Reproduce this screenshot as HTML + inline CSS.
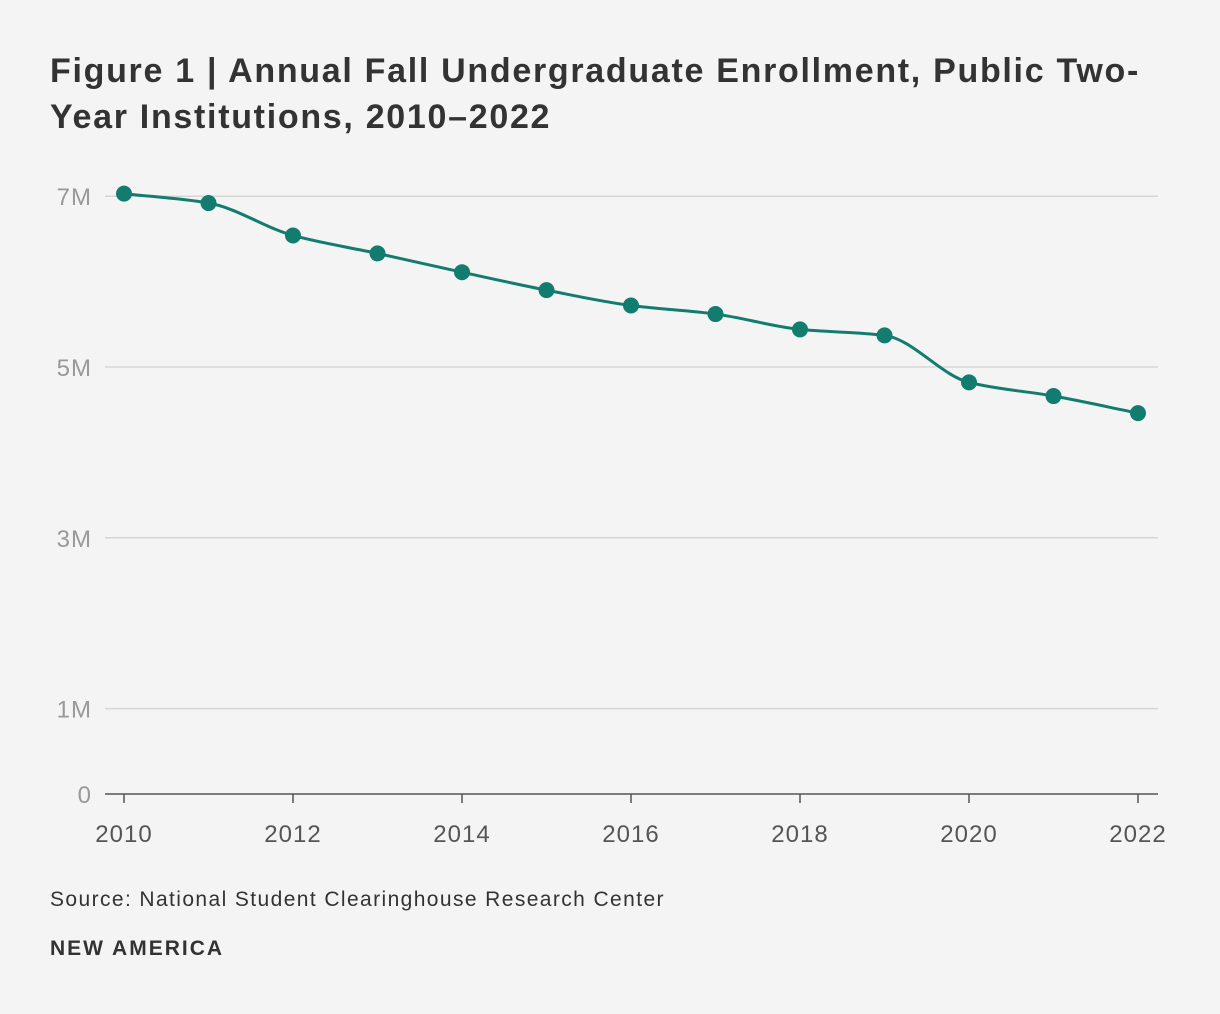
<!DOCTYPE html>
<html><head><meta charset="utf-8">
<style>
body{margin:0;background:#f4f4f4;width:1220px;height:1014px;overflow:hidden;font-family:"Liberation Sans",sans-serif;}
h1{position:absolute;left:50px;top:48px;margin:0;font-size:34px;line-height:46px;font-weight:bold;color:#333;width:1160px;letter-spacing:1.7px;white-space:nowrap}
.src{position:absolute;left:50px;top:888px;font-size:21px;color:#333;letter-spacing:1.4px}
.brand{position:absolute;left:50px;top:937px;font-size:21px;font-weight:bold;color:#333;letter-spacing:2px}
svg{position:absolute;left:0;top:0}
</style></head><body>
<h1>Figure 1 | Annual Fall Undergraduate Enrollment, Public Two-<br>Year Institutions, 2010–2022</h1>
<svg id="chart" width="1220" height="1014"></svg>
<div class="src">Source: National Student Clearinghouse Research Center</div>
<div class="brand">NEW AMERICA</div>
<script>
const years=[2010,2011,2012,2013,2014,2015,2016,2017,2018,2019,2020,2021,2022];
const enrollment=[7.03,6.92,6.54,6.33,6.11,5.90,5.72,5.62,5.44,5.37,4.82,4.66,4.46];
const yTicks=[0,1,3,5,7];
const yTickLabels=["0","1M","3M","5M","7M"];
const xTicks=[2010,2012,2014,2016,2018,2020,2022];
const svg=document.getElementById('chart');
const NS='http://www.w3.org/2000/svg';
const x=v=>124+(v-2010)*(1138-124)/12;
const y=v=>794-v*85.4;
function mk(t,a){const e=document.createElementNS(NS,t);for(const k in a)e.setAttribute(k,a[k]);svg.appendChild(e);return e;}
yTicks.forEach((t,i)=>{
  if(t>0){const g=mk('line',{x1:105,x2:1158,y1:y(t),y2:y(t),stroke:'#d6d6d6','stroke-width':1.5});
  
  }
  const l=mk('text',{x:92,y:y(t)+9,'text-anchor':'end','font-size':24,fill:'#999','font-family':'Liberation Sans, sans-serif','letter-spacing':1});
  l.textContent=yTickLabels[i];
  
  
});
const ax=mk('line',{x1:105,x2:1158,y1:794,y2:794,stroke:'#555','stroke-width':1.5});


xTicks.forEach(t=>{
  const tk=mk('line',{x1:x(t),x2:x(t),y1:794,y2:803,stroke:'#555','stroke-width':1.5});
  
  
  const l=mk('text',{x:x(t),y:842,'text-anchor':'middle','font-size':24,fill:'#555','font-family':'Liberation Sans, sans-serif','letter-spacing':1});
  l.textContent=t;
  
  
});
const px=years.map(x),py=enrollment.map(y),n=px.length;
const s=[],m=[];
for(let i=0;i<n-1;i++)s.push((py[i+1]-py[i])/(px[i+1]-px[i]));
for(let i=0;i<n;i++){
  if(i==0)m.push(s[0]);else if(i==n-1)m.push(s[n-2]);
  else m.push(s[i-1]*s[i]<=0?0:3*(px[i+1]-px[i-1])/((2*px[i+1]-px[i]-px[i-1])/s[i-1]+(px[i+1]+px[i]-2*px[i-1])/s[i]));
}
let d=`M${px[0]},${py[0]}`;
for(let i=0;i<n-1;i++){const h=(px[i+1]-px[i])/3;
  d+=` C${px[i]+h},${py[i]+m[i]*h} ${px[i+1]-h},${py[i+1]-m[i+1]*h} ${px[i+1]},${py[i+1]}`;}
const line=mk('path',{d:d,fill:'none',stroke:'#127c6f','stroke-width':3});


years.forEach((yr,i)=>{
  const c=mk('circle',{cx:x(yr),cy:y(enrollment[i]),r:8,fill:'#127c6f'});
  
  
});
</script>
</body></html>
